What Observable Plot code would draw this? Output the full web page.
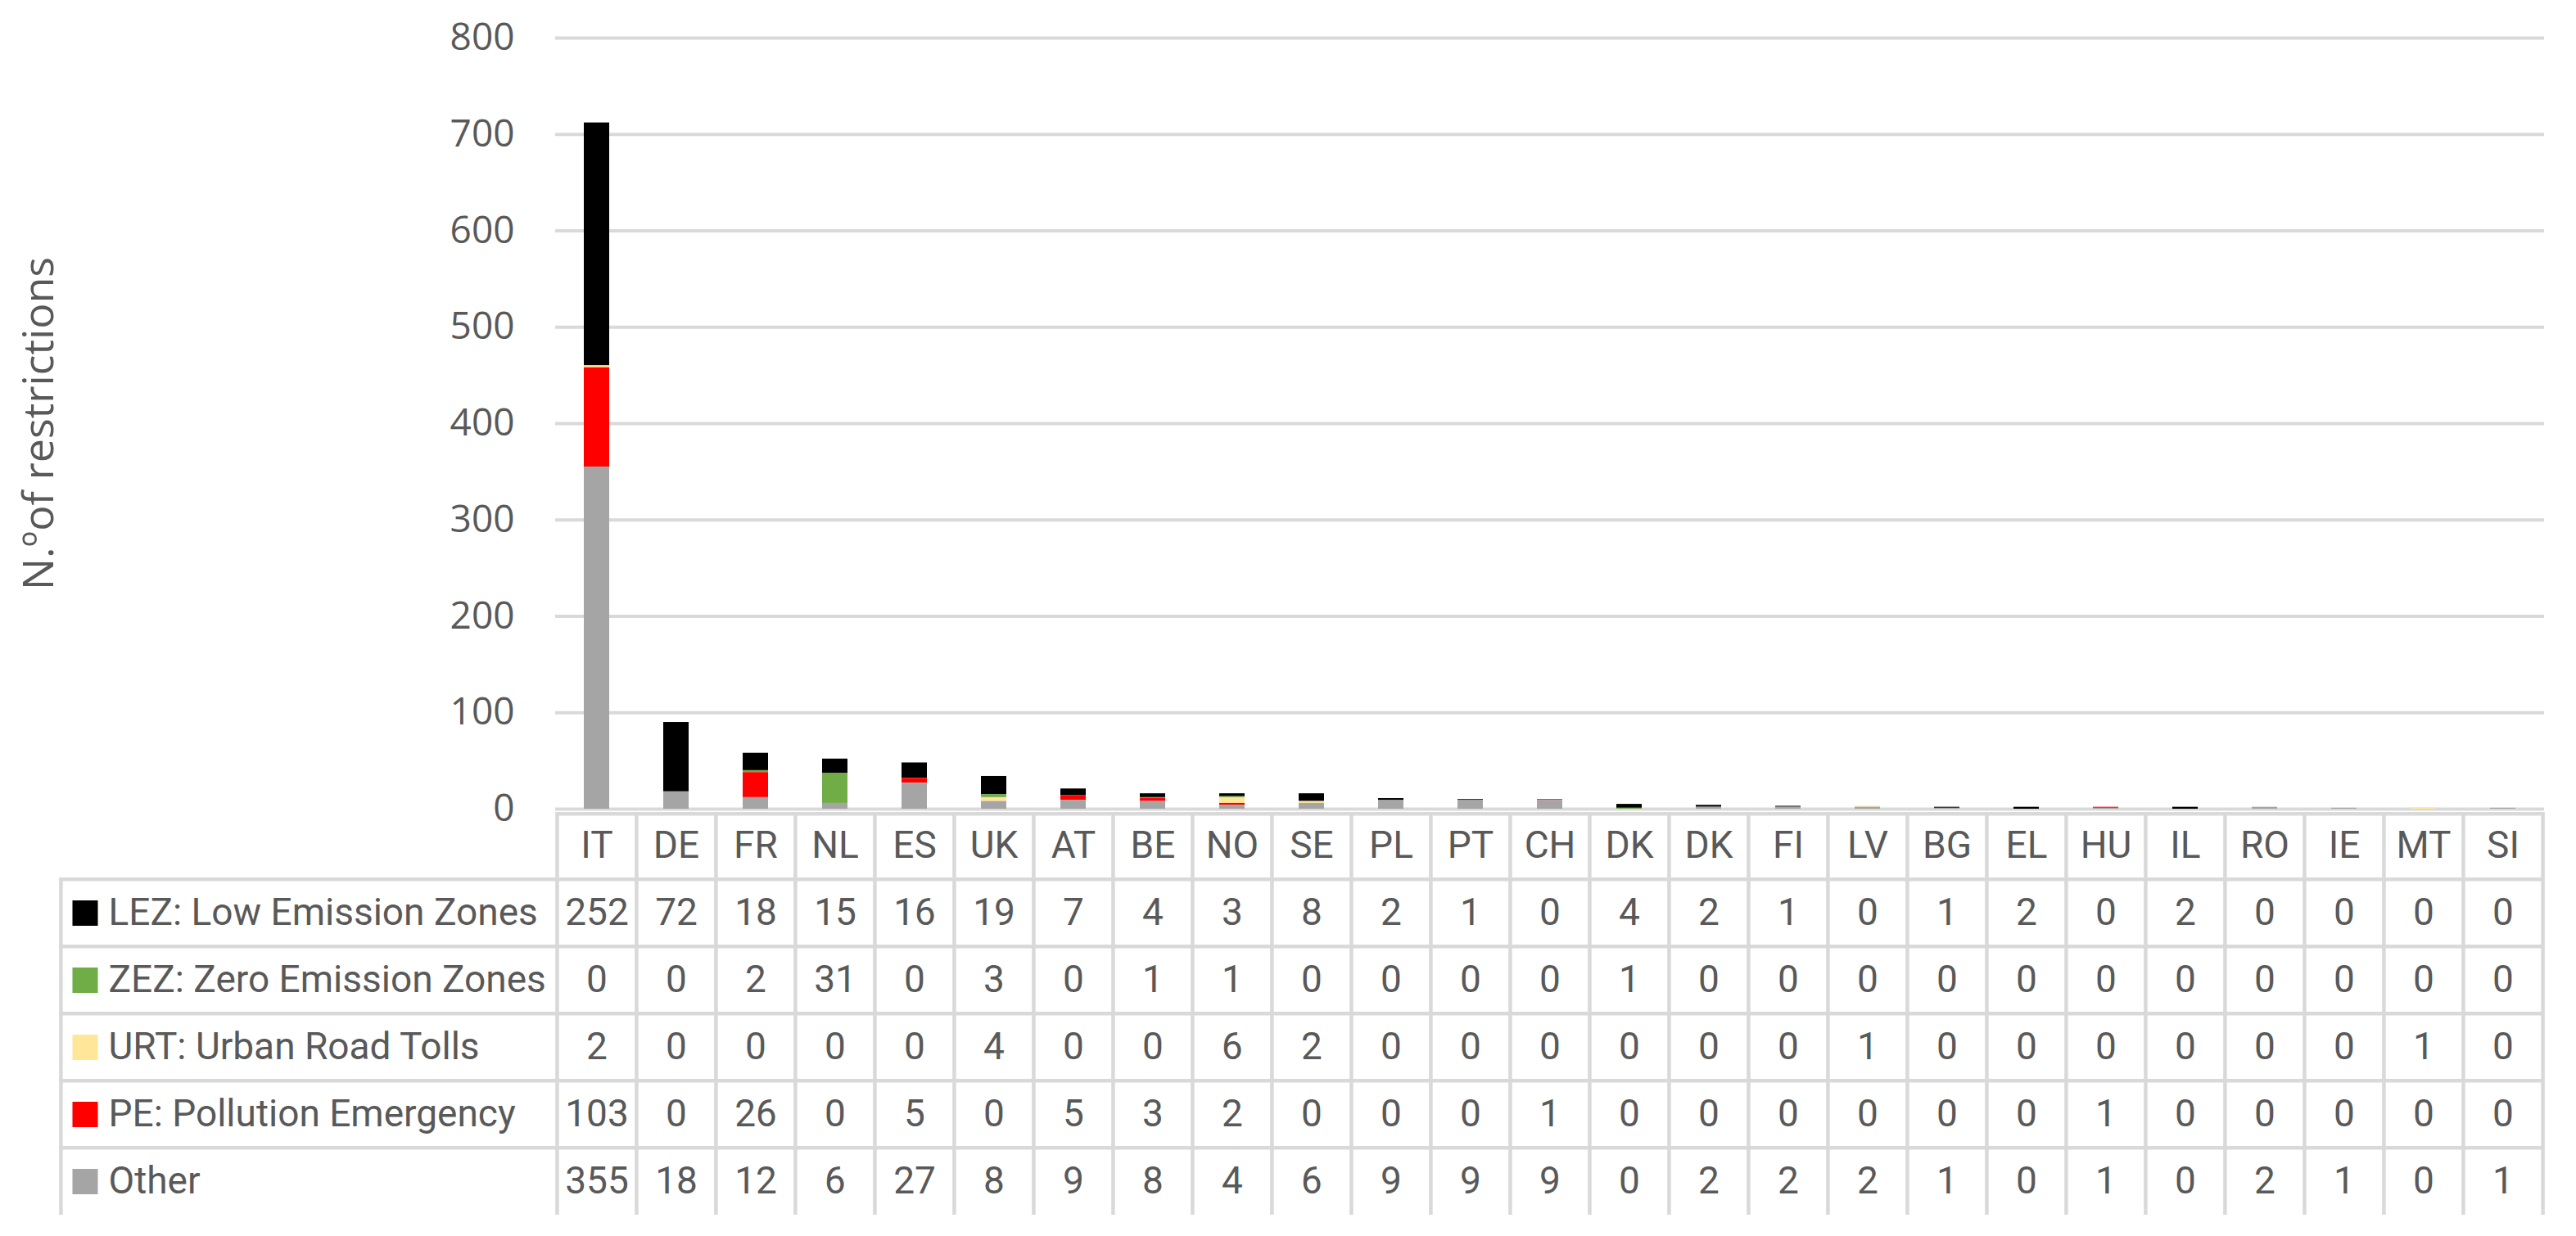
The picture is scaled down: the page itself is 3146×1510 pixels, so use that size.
<!DOCTYPE html>
<html>
<head>
<meta charset="utf-8">
<script src="https://cdn.jsdelivr.net/npm/d3@7"></script>
<script src="https://cdn.jsdelivr.net/npm/@observablehq/plot@0.6"></script>
<style>
  html, body { margin: 0; padding: 0; background: #fff; }
  #chart svg { display: block; }
</style>
</head>
<body>
<div id="chart"></div>
<script>
// ---------- data ----------
const countries = ["IT","DE","FR","NL","ES","UK","AT","BE","NO","SE","PL","PT","CH","DK","DK","FI","LV","BG","EL","HU","IL","RO","IE","MT","SI"];
const seriesKeys = ["LEZ","ZEZ","URT","PE","Other"];
const seriesLabels = ["LEZ: Low Emission Zones","ZEZ: Zero Emission Zones","URT: Urban Road Tolls","PE: Pollution Emergency","Other"];
const seriesColors = ["#000000","#70ad47","#ffe699","#ff0000","#a5a5a5"];
const stackOrder = ["Other","PE","URT","ZEZ","LEZ"];
const lez   = [252,72,18,15,16,19,7,4,3,8,2,1,0,4,2,1,0,1,2,0,2,0,0,0,0];
const zez   = [0,0,2,31,0,3,0,1,1,0,0,0,0,1,0,0,0,0,0,0,0,0,0,0,0];
const urt   = [2,0,0,0,0,4,0,0,6,2,0,0,0,0,0,0,1,0,0,0,0,0,0,1,0];
const pe    = [103,0,26,0,5,0,5,3,2,0,0,0,1,0,0,0,0,0,0,1,0,0,0,0,0];
const other = [355,18,12,6,27,8,9,8,4,6,9,9,9,0,2,2,2,1,0,1,0,2,1,0,1];
const yTicks = [0,100,200,300,400,500,600,700,800];
const yLabel = "N.ºof restrictions";

// ---------- derived tables ----------
const valuesBySeries = {LEZ: lez, ZEZ: zez, URT: urt, PE: pe, Other: other};
const idx = countries.map((_, i) => i);
const records = seriesKeys.flatMap(s => idx.map(i => ({i, series: s, value: valuesBySeries[s][i]})));

// ---------- layout ----------
const W = 3146;
const left = 678, right = 3107;
const gridColor = "#d9d9d9";
const textColor = "#595959";

const chart = Plot.plot({
  width: W,
  height: 990,
  marginTop: 46,
  marginBottom: 2,
  marginLeft: left,
  marginRight: W - right,
  style: {fontFamily: "'Open Sans', sans-serif", fontSize: "46px", color: textColor, background: "#fff", overflow: "visible", position: "relative", zIndex: 1},
  x: {domain: idx, paddingInner: 0.68, paddingOuter: 0.34, axis: null},
  y: {domain: [0, 800], axis: null},
  color: {domain: seriesKeys, range: seriesColors},
  marks: [
    Plot.ruleY(yTicks, {stroke: gridColor, strokeWidth: 4}),
    Plot.barY(records, Plot.stackY({x: "i", y: "value", fill: "series", order: stackOrder})),
    Plot.axisY(yTicks, {tickSize: 0, tickPadding: 50, label: null, fontSize: 46}),
    Plot.text([yLabel], {frameAnchor: "left", textAnchor: "middle", rotate: -90, dx: -650, lineAnchor: "top", fontSize: 52, text: d => d})
  ]
});

// ---------- data table ----------
const rowKeys = ["header", ...seriesKeys];
const tableH = 520, tableBottom = 25, labelLeft = 72;
const bw = (right - left) / countries.length;
const bh = (tableH - tableBottom) / rowKeys.length;
const gridCells = rowKeys.flatMap(r => idx.map(i => ({i, row: r})));
const lineStyle = {stroke: gridColor, strokeWidth: 4.5};

const table = Plot.plot({
  width: W,
  height: tableH,
  marginTop: 0,
  marginBottom: tableBottom,
  marginLeft: labelLeft,
  marginRight: W - right,
  style: {fontFamily: "Roboto, sans-serif", fontSize: "46px", color: textColor, background: "transparent"},
  x: {type: "band", domain: idx, range: [left, right], padding: 0, axis: null},
  y: {type: "band", domain: rowKeys, padding: 0, axis: null},
  color: {domain: seriesKeys, range: seriesColors},
  marks: [
    Plot.tickX(gridCells, {x: "i", y: "row", dx: -bw / 2, ...lineStyle}),
    Plot.tickX(rowKeys, {x: () => idx[idx.length - 1], y: d => d, dx: bw / 2, ...lineStyle}),
    Plot.tickX(seriesKeys, {x: () => idx[0], y: d => d, dx: -bw / 2 - (left - labelLeft), ...lineStyle}),
    Plot.ruleY(seriesKeys, {y: d => d, dy: -bh / 2, ...lineStyle}),
    Plot.tickY(idx, {x: d => d, y: () => "header", dy: -bh / 2 + 2, ...lineStyle}),
    Plot.text(idx, {x: d => d, y: () => "header", text: i => countries[i]}),
    Plot.text(records, {x: "i", y: "series", text: "value"}),
    Plot.dot(seriesKeys, {y: d => d, frameAnchor: "left", dx: 31.5, symbol: "square", r: 17.5, fill: d => d}),
    Plot.text(seriesKeys, {y: d => d, frameAnchor: "left", textAnchor: "start", dx: 60, text: (d, i) => seriesLabels[i]})
  ]
});

const root = document.getElementById("chart");
root.append(chart, table);
</script>
</body>
</html>
